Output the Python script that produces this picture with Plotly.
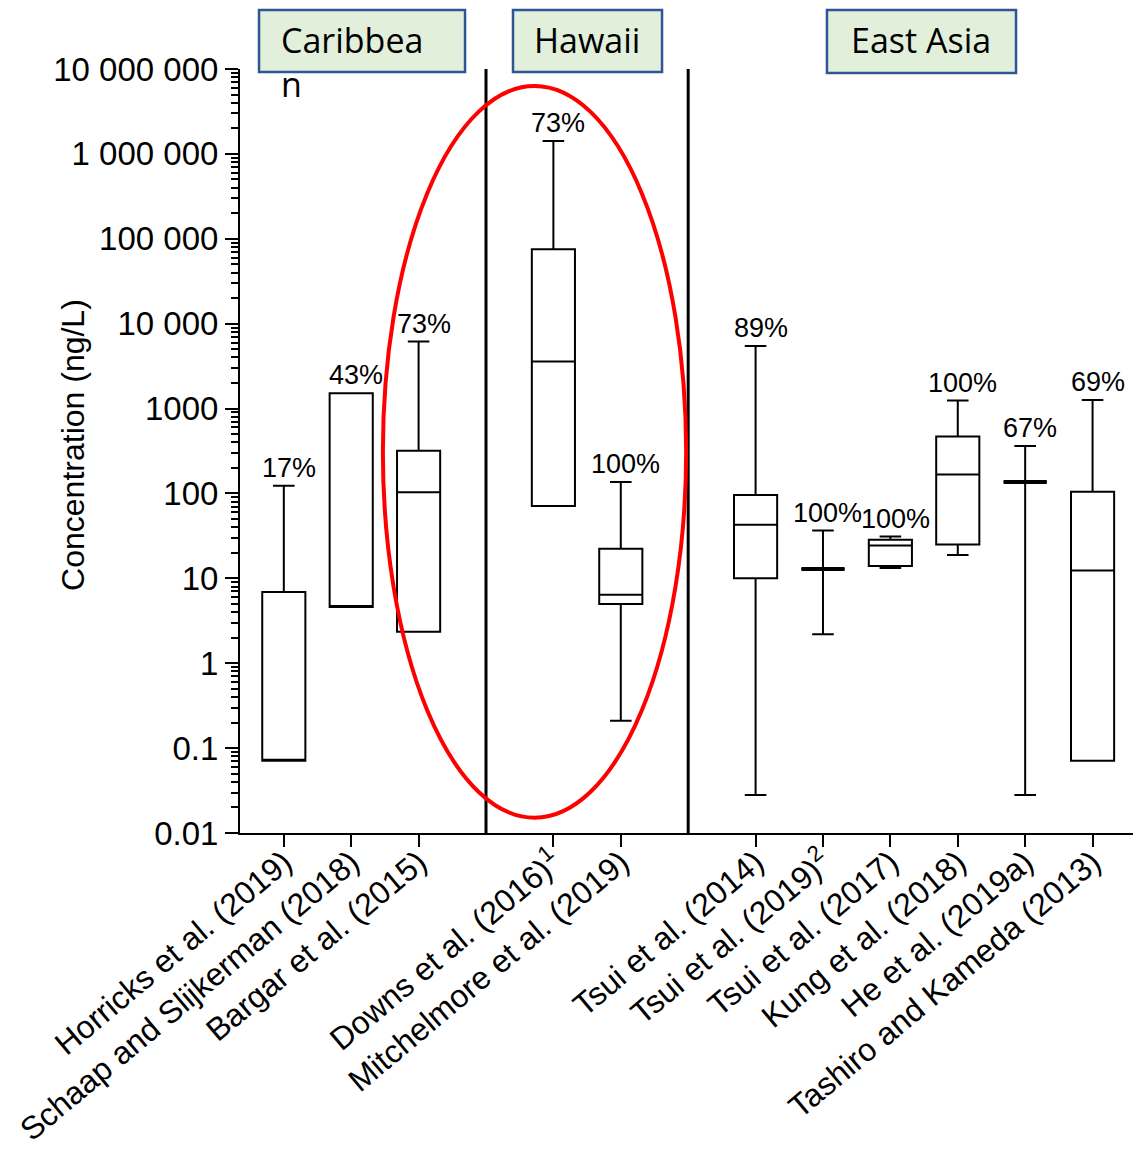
import math
import plotly.graph_objects as go

# Study summaries: concentration (ng/L) box statistics and detection frequency
studies = [
    "Horricks et al. (2019)",
    "Schaap and Slijkerman (2018)",
    "Bargar et al. (2015)",
    "Downs et al. (2016)<sup>1</sup>",
    "Mitchelmore et al. (2019)",
    "Tsui et al. (2014)",
    "Tsui et al. (2019)<sup>2</sup>",
    "Tsui et al. (2017)",
    "Kung et al. (2018)",
    "He et al. (2019a)",
    "Tashiro and Kameda (2013)",
]
regions = ["Caribbean"] * 3 + ["Hawaii"] * 2 + ["East Asia"] * 6

lower = [0.071, 4.6, 2.35, 71, 0.21, 0.028, 2.2, 13.2, 18.8, 0.028, 0.071]
q1 = [0.071, 4.6, 2.35, 71, 5.0, 10.0, 12.9, 14.0, 25.0, 136, 0.071]
median = [0.071, 4.6, 103, 3575, 6.4, 42.7, 12.9, 24.4, 167, 136, 12.4]
q3 = [6.9, 1515, 318, 75300, 22.3, 96, 12.9, 28.4, 468, 136, 105]
upper = [123, 1515, 6150, 1420000, 136, 5470, 36.6, 31.1, 1242, 363, 1265]
detected = [17, 43, 73, 73, 100, 89, 100, 100, 100, 67, 69]

y_tick_vals = [0.01, 0.1, 1, 10, 100, 1000, 1e4, 1e5, 1e6, 1e7]
y_tick_text = ["0.01", "0.1", "1", "10", "100", "1000", "10 000",
               "100 000", "1 000 000", "10 000 000"]

# Place studies on the x axis, leaving one empty slot between regions
positions, dividers = [], []
slot = 0
for i, reg in enumerate(regions):
    if i > 0 and reg != regions[i - 1]:
        dividers.append(slot)
        slot += 1
    positions.append(slot)
    slot += 1

BOX_W = 0.64
TXT = "Liberation Sans, Arial, sans-serif"
fig = go.Figure()

for i, name in enumerate(studies):
    fig.add_trace(go.Box(
        x=[positions[i]],
        q1=[q1[i]], median=[median[i]], q3=[q3[i]],
        lowerfence=[lower[i]], upperfence=[upper[i]],
        width=BOX_W, whiskerwidth=0.5,
        line=dict(color="black", width=2),
        fillcolor="rgba(255,255,255,0)",
        boxpoints=False, showlegend=False, name=name,
    ))
    # collapsed boxes (q1 == q3) show as a single heavy bar
    if q1[i] == q3[i]:
        fig.add_trace(go.Scatter(
            x=[positions[i] - BOX_W / 2, positions[i] + BOX_W / 2],
            y=[median[i], median[i]], mode="lines",
            line=dict(color="black", width=4),
            showlegend=False, hoverinfo="skip",
        ))
    fig.add_annotation(
        x=positions[i], y=math.log10(upper[i]), xref="x", yref="y",
        text=f"{detected[i]}%", showarrow=False,
        yanchor="bottom", yshift=1, xshift=5,
        font=dict(family=TXT, size=27, color="black"),
    )

# Region separators
for d in dividers:
    fig.add_shape(type="line", xref="x", yref="y", x0=d, x1=d,
                  y0=y_tick_vals[0], y1=y_tick_vals[-1],
                  line=dict(color="black", width=3))

# Highlight around the Hawaii studies
fig.add_shape(type="circle", xref="x", yref="y",
              x0=1.47, x1=5.97, y0=10 ** -1.82, y1=10 ** 6.80,
              line=dict(color="red", width=4))

# Region header boxes
HDR = "Open Sans, Lato, sans-serif"
headers = [
    (0.0213, 0.2520, 0.9961, 1.0772),
    (0.3057, 0.4726, 0.9961, 1.0772),
    (0.6573, 0.8690, 0.9948, 1.0772),
]
for x0, x1, y0, y1 in headers:
    fig.add_shape(type="rect", xref="paper", yref="paper",
                  x0=x0, x1=x1, y0=y0, y1=y1,
                  fillcolor="#E2EFDA", line=dict(color="#2F5597", width=2.5),
                  layer="above")
fig.add_annotation(x=0.0437, y=1.071, xref="paper", yref="paper",
                   text="Caribbea<br>n", showarrow=False, align="left",
                   xanchor="left", yanchor="top",
                   font=dict(family=HDR, size=34, color="black"))
fig.add_annotation(x=0.3886, y=1.038, xref="paper", yref="paper",
                   text="Hawaii", showarrow=False,
                   xanchor="center", yanchor="middle",
                   font=dict(family=HDR, size=34, color="black"))
fig.add_annotation(x=0.7626, y=1.038, xref="paper", yref="paper",
                   text="East Asia", showarrow=False,
                   xanchor="center", yanchor="middle",
                   font=dict(family=HDR, size=34, color="black"))

# Y axis title
fig.add_annotation(x=-0.187, y=0.508, xref="paper", yref="paper",
                   text="Concentration (ng/L)", textangle=-90, showarrow=False,
                   xanchor="center", yanchor="middle",
                   font=dict(family=TXT, size=32, color="black"))

fig.update_layout(
    width=1133, height=1154,
    margin=dict(l=240, r=0, t=69, b=321),
    paper_bgcolor="white", plot_bgcolor="white",
    showlegend=False,
    xaxis=dict(
        range=[-0.65, positions[-1] + 0.6], automargin=False,
        tickmode="array", tickvals=positions, ticktext=studies,
        tickangle=-40, ticks="outside", ticklen=12, tickwidth=2,
        tickcolor="black", showline=True, linecolor="black", linewidth=2,
        showgrid=False, zeroline=False, ticklabelstandoff=-16,
        tickfont=dict(family=TXT, size=32, color="black"),
    ),
    yaxis=dict(
        type="log", range=[-2, 7], automargin=False,
        tickmode="array", tickvals=y_tick_vals, ticktext=y_tick_text,
        ticks="outside", ticklen=13, tickwidth=2, tickcolor="black",
        showline=True, linecolor="black", linewidth=2,
        showgrid=False, zeroline=False,
        tickfont=dict(family=TXT, size=33, color="black"),
        minor=dict(ticks="outside", ticklen=7, tickwidth=1.5,
                   tickcolor="black", dtick="D1", showgrid=False),
    ),
)

fig.write_html("out.html")
